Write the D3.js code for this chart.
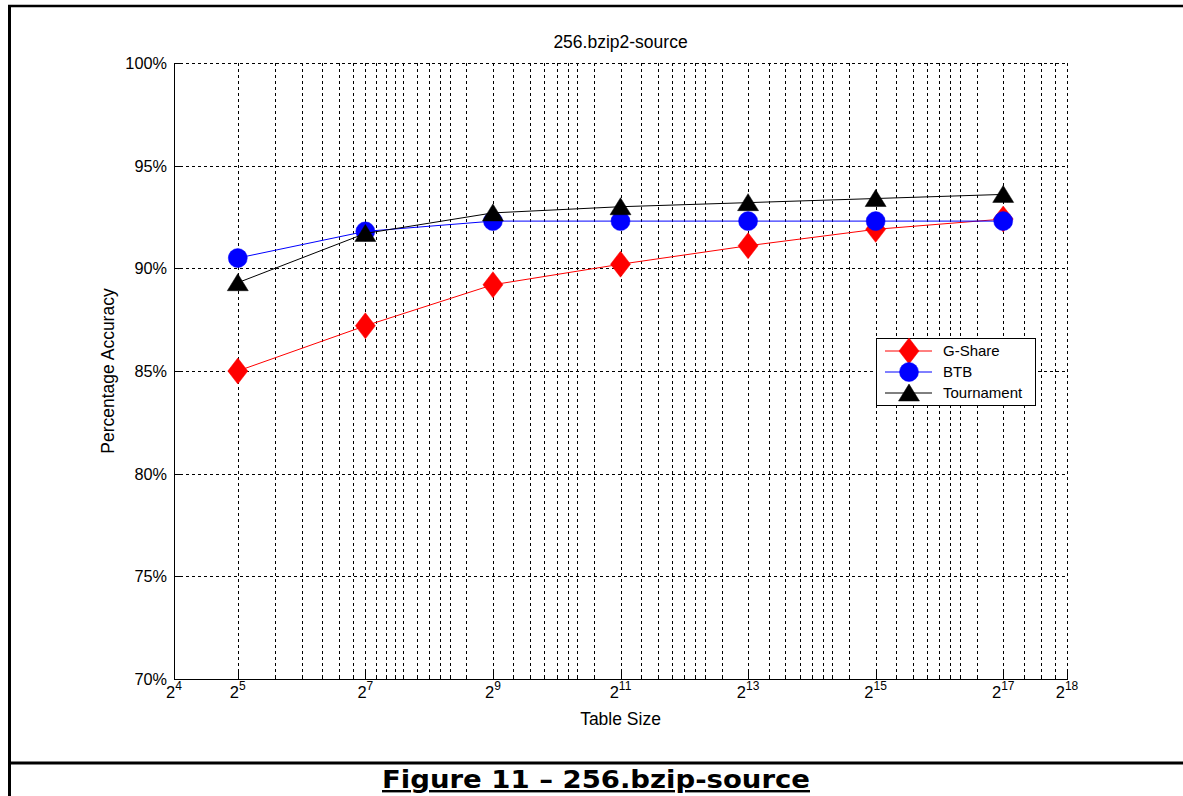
<!DOCTYPE html>
<html lang="en">
  <head>
    <meta charset="utf-8">
    <title>256.bzip2-source</title>
    <script src="https://d3js.org/d3.v7.min.js"></script>
    <style>
      body { margin: 0; background: #fff; }
    </style>
  </head>
  <body>
    <script type="text/javascript">
    // data
    var sizes = [32, 128, 512, 2048, 8192, 32768, 131072];
    var gshare = [85.0, 87.2, 89.2, 90.2, 91.1, 91.9, 92.4];
    var btb = [90.5, 91.8, 92.3, 92.3, 92.3, 92.3, 92.3];
    var tournament = [89.3, 91.7, 92.7, 93.0, 93.2, 93.4, 93.6];
    var seriesNames = ["G-Share", "BTB", "Tournament"];

    var xTickExp = [4, 5, 7, 9, 11, 13, 15, 17, 18];
    var yTicks = [70, 75, 80, 85, 90, 95, 100];
    // minor grid positions as seen on the figure
    var xMinor = [48, 64, 80, 96, 112,
                  144, 160, 176, 192, 224, 256, 288, 320, 384,
                  640, 768, 896, 1024, 1152, 1280, 1536,
                  2560, 3072, 3584, 4096, 4608, 5120, 6144,
                  10240, 12288, 14336, 16384, 18432, 20480, 24576,
                  40960, 49152, 57344, 65536, 73728, 81920, 98304,
                  163840, 196608, 229376];

    var w = 1183, h = 796;
    var pLeft = 174, pRight = 1067, pTop = 63, pBottom = 679;
    var font = "'Liberation Sans', Arial, sans-serif";

    var svg = d3.select("body").append("svg")
                .attr("width", w)
                .attr("height", h)
                .style("font-family", font);

    var x = d3.scaleLog().base(2)
              .domain([16, 262144])
              .range([pLeft, pRight]);
    var y = d3.scaleLinear()
              .domain([70, 100])
              .range([pBottom, pTop]);

    // page frame
    svg.append("line").attr("x1", 9.5).attr("x2", 9.5).attr("y1", 5).attr("y2", h)
       .attr("stroke", "#000").attr("stroke-width", 3);
    svg.append("line").attr("x1", 8).attr("x2", w).attr("y1", 6).attr("y2", 6)
       .attr("stroke", "#000").attr("stroke-width", 2.5);
    svg.append("line").attr("x1", 8).attr("x2", w).attr("y1", 763).attr("y2", 763)
       .attr("stroke", "#000").attr("stroke-width", 3);

    // grid
    var grid = svg.append("g")
                  .attr("stroke", "#000")
                  .attr("stroke-width", 1)
                  .attr("stroke-dasharray", "3,3")
                  .attr("shape-rendering", "crispEdges");

    var xGridVals = xTickExp.map(function(e) { return Math.pow(2, e); }).concat(xMinor);
    grid.selectAll(".vg")
        .data(xGridVals)
        .enter().append("line")
        .attr("x1", function(d) { return Math.round(x(d)) + 0.5; })
        .attr("x2", function(d) { return Math.round(x(d)) + 0.5; })
        .attr("y1", pTop).attr("y2", pBottom);
    grid.selectAll(".hg")
        .data(yTicks)
        .enter().append("line")
        .attr("x1", pLeft).attr("x2", pRight)
        .attr("y1", function(d) { return Math.round(y(d)) + 0.5; })
        .attr("y2", function(d) { return Math.round(y(d)) + 0.5; });

    // axes (left and bottom only)
    var ax = svg.append("g").attr("stroke", "#000").attr("shape-rendering", "crispEdges");
    ax.append("line").attr("x1", pLeft + 0.5).attr("x2", pLeft + 0.5)
      .attr("y1", pTop).attr("y2", pBottom + 0.5);
    ax.append("line").attr("x1", pLeft).attr("x2", pRight + 0.5)
      .attr("y1", pBottom + 0.5).attr("y2", pBottom + 0.5);
    ax.selectAll(".xt")
      .data(xGridVals)
      .enter().append("line")
      .attr("x1", function(d) { return Math.round(x(d)) + 0.5; })
      .attr("x2", function(d) { return Math.round(x(d)) + 0.5; })
      .attr("y1", pBottom).attr("y2", function(d) { return xMinor.indexOf(d) >= 0 ? pBottom - 3 : pBottom - 8; });
    ax.selectAll(".yt")
      .data(yTicks)
      .enter().append("line")
      .attr("x1", pLeft).attr("x2", pLeft + 8)
      .attr("y1", function(d) { return Math.round(y(d)) + 0.5; })
      .attr("y2", function(d) { return Math.round(y(d)) + 0.5; });

    // tick labels
    svg.selectAll(".ylab")
       .data(yTicks)
       .enter().append("text")
       .attr("x", pLeft - 7)
       .attr("y", function(d) { return y(d); })
       .attr("dy", "0.36em")
       .attr("text-anchor", "end")
       .attr("font-size", "16.3px")
       .text(function(d) { return d + "%"; });

    var xl = svg.selectAll(".xlab")
       .data(xTickExp)
       .enter().append("text")
       .attr("x", function(d) { return x(Math.pow(2, d)); })
       .attr("y", 698)
       .attr("text-anchor", "middle")
       .attr("font-size", "16.5px");
    xl.append("tspan").text("2");
    xl.append("tspan")
      .attr("dy", -8)
      .attr("font-size", "12px")
      .text(function(d) { return d; });

    // titles
    svg.append("text")
       .attr("x", (pLeft + pRight) / 2).attr("y", 48)
       .attr("text-anchor", "middle")
       .attr("font-size", "17.5px")
       .text("256.bzip2-source");
    svg.append("text")
       .attr("x", (pLeft + pRight) / 2).attr("y", 725)
       .attr("text-anchor", "middle")
       .attr("font-size", "17.5px")
       .text("Table Size");
    svg.append("text")
       .attr("transform", "translate(114," + ((pTop + pBottom) / 2) + ") rotate(-90)")
       .attr("text-anchor", "middle")
       .attr("font-size", "17.5px")
       .text("Percentage Accuracy");

    // series
    var series = [
      { name: seriesNames[0], values: gshare, color: "#ff0000", marker: "diamond" },
      { name: seriesNames[1], values: btb, color: "#0000ff", marker: "circle" },
      { name: seriesNames[2], values: tournament, color: "#000000", marker: "triangle" }
    ];

    function markerPath(type) {
      if (type === "diamond") return "M0,-13L10,0L0,13L-10,0Z";
      if (type === "triangle") return "M0,-9L10.5,8L-10.5,8Z";
      return "M9.5,0A9.5,9.5 0 1,1 -9.5,0A9.5,9.5 0 1,1 9.5,0Z";
    }

    var line = d3.line()
                 .x(function(d, i) { return x(sizes[i]); })
                 .y(function(d) { return y(d); });

    series.forEach(function(s) {
      var g = svg.append("g");
      g.append("path")
       .attr("d", line(s.values))
       .attr("fill", "none")
       .attr("stroke", s.color)
       .attr("stroke-width", 1);
      g.selectAll("path.m")
       .data(s.values)
       .enter().append("path")
       .attr("class", "m")
       .attr("transform", function(d, i) { return "translate(" + x(sizes[i]) + "," + y(d) + ")"; })
       .attr("d", markerPath(s.marker))
       .attr("fill", s.color)
       .attr("stroke", s.color)
       .attr("stroke-width", 0.5);
    });

    // legend
    var lg = svg.append("g").attr("transform", "translate(876,338)");
    lg.append("rect").attr("x", 0.5).attr("y", 0.5).attr("width", 159).attr("height", 67)
      .attr("fill", "#fff").attr("stroke", "#000").attr("shape-rendering", "crispEdges");
    var item = lg.selectAll(".item")
      .data(series)
      .enter().append("g")
      .attr("transform", function(d, i) { return "translate(0," + (13 + i * 21) + ")"; });
    item.append("line").attr("x1", 9).attr("x2", 56).attr("y1", 0).attr("y2", 0)
        .attr("stroke", function(d) { return d.color; });
    item.append("path")
        .attr("transform", "translate(33,0)")
        .attr("d", function(d) { return markerPath(d.marker); })
        .attr("fill", function(d) { return d.color; })
        .attr("stroke", function(d) { return d.color; })
        .attr("stroke-width", 0.5);
    item.append("text")
        .attr("x", 67).attr("y", 0).attr("dy", "0.36em")
        .attr("font-size", "15px")
        .text(function(d) { return d.name; });

    // caption
    svg.append("text")
       .attr("x", 596).attr("y", 788)
       .attr("text-anchor", "middle")
       .style("font-family", "'DejaVu Sans', Verdana, sans-serif")
       .attr("font-weight", "bold")
       .attr("font-size", "24px")
       .attr("textLength", 428)
       .attr("lengthAdjust", "spacingAndGlyphs")
       .attr("text-decoration", "underline")
       .text("Figure 11 \u2013 256.bzip-source");
    </script>
  </body>
</html>
